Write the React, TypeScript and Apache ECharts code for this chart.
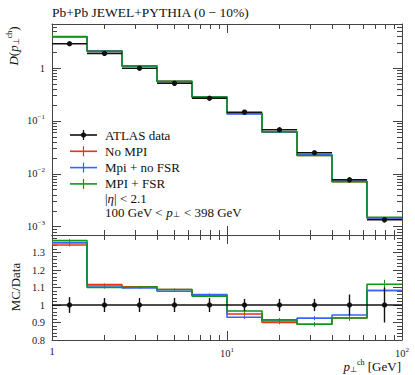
import React, { useEffect, useRef } from "react";
import * as echarts from "echarts";

const binEdges = [1, 1.585, 2.512, 3.981, 6.31, 10, 15.85, 25.12, 39.81, 63.1, 100];
const binCenters = [1.259, 1.995, 3.162, 5.012, 7.943, 12.59, 19.95, 31.62, 50.12, 79.43];
const atlasData = [2.87, 1.89, 0.99, 0.514, 0.268, 0.146, 0.068, 0.025, 0.0077, 0.00135];
const atlasRelErr = [0.045, 0.04, 0.04, 0.04, 0.04, 0.035, 0.035, 0.035, 0.06, 0.1];
const noMpi = [3.85, 2.11, 1.093, 0.56, 0.283, 0.1386, 0.0612, 0.02225, 0.00713, 0.00146];
const mpiNoFsr = [3.89, 2.1, 1.086, 0.555, 0.284, 0.1358, 0.0618, 0.0231, 0.00726, 0.00146];
const mpiFsr = [3.93, 2.08, 1.093, 0.56, 0.282, 0.141, 0.0622, 0.02225, 0.00713, 0.00151];
const ratioNoMpi = [1.343, 1.117, 1.104, 1.089, 1.057, 0.949, 0.9, 0.89, 0.926, 1.083];
const ratioMpiNoFsr = [1.355, 1.109, 1.097, 1.079, 1.06, 0.93, 0.909, 0.925, 0.943, 1.083];
const ratioMpiFsr = [1.368, 1.1, 1.104, 1.089, 1.051, 0.966, 0.915, 0.89, 0.926, 1.119];
const mcRelErr = [0.008, 0.006, 0.005, 0.005, 0.006, 0.01, 0.01, 0.012, 0.015, 0.025];

const xMajor = [1, 10, 100];
const xMinor = [2, 3, 4, 5, 6, 7, 8, 9, 20, 30, 40, 50, 60, 70, 80, 90];
const yTopMajor = [0.001, 0.01, 0.1, 1];
const yTopMinor: number[] = [];
[0.0001, 0.001, 0.01, 0.1, 1].forEach((d) => {
  for (let k = 2; k <= 9; k++) yTopMinor.push(+(d * k).toPrecision(3));
});
const yRatioLabels = [0.8, 0.9, 1, 1.1, 1.2, 1.3];

const RED = "#EE3311";
const BLUE = "#3366FF";
const GREEN = "#109618";
const FRAME = "#444";
const FONT = "Liberation Serif";

const supMap: Record<string, string> = { "-1": "−1", "-2": "−2", "-3": "−3", "1": "1", "2": "2" };

function stepData(vals: number[]) {
  return binEdges.map((e, i) => [e, vals[Math.min(i, vals.length - 1)]]);
}

function pointRender(params: any, api: any) {
  const y = api.value(3);
  const e = api.value(4);
  const lo = api.coord([api.value(0), y]);
  const hi = api.coord([api.value(1), y]);
  const c = api.coord([api.value(2), y]);
  const t = api.coord([api.value(2), y + e]);
  const b = api.coord([api.value(2), y - e]);
  return {
    type: "group",
    children: [
      { type: "line", shape: { x1: lo[0], y1: lo[1], x2: hi[0], y2: hi[1] }, style: { stroke: "#111", lineWidth: 1.6 } },
      { type: "line", shape: { x1: c[0], y1: t[1], x2: c[0], y2: b[1] }, style: { stroke: "#111", lineWidth: 1.4 } },
      { type: "circle", shape: { cx: c[0], cy: c[1], r: 2.7 }, style: { fill: "#111" } },
    ],
  };
}

function tickRender(color: string) {
  return (params: any, api: any) => {
    const y = api.value(1);
    const e = api.value(2);
    const t = api.coord([api.value(0), y + e]);
    const b = api.coord([api.value(0), y - e]);
    return { type: "line", shape: { x1: t[0], y1: t[1], x2: b[0], y2: b[1] }, style: { stroke: color, lineWidth: 1 } };
  };
}

function xAxes(gridIndex: number, withLabels: boolean) {
  const base = {
    type: "log",
    logBase: 10,
    min: 1,
    max: 100,
    gridIndex,
    splitLine: { show: false },
  };
  const res: any[] = [];
  ["bottom", "top"].forEach((pos) => {
    res.push({
      ...base,
      position: pos,
      axisLine: { show: true, lineStyle: { color: FRAME, width: 1 } },
      axisTick: { show: true, inside: true, length: 9, customValues: xMajor, lineStyle: { color: FRAME } },
      axisLabel:
        withLabels && pos === "bottom"
          ? {
              show: true,
              customValues: xMajor,
              fontFamily: FONT,
              fontSize: 10.5,
              color: "#222",
              margin: 6,
              formatter: (v: number) => (v === 1 ? "{b|1}" : `{b|10}{s|${v === 10 ? "1" : "2"}}`),
              rich: { b: { fontFamily: FONT, fontSize: 10.5, color: "#222" }, s: { fontFamily: FONT, fontSize: 7, color: "#222", padding: [0, 0, 7, 0] } },
            }
          : { show: false },
    });
    res.push({
      ...base,
      position: pos,
      axisLine: { show: false },
      axisTick: { show: true, inside: true, length: 5, customValues: xMinor, lineStyle: { color: FRAME } },
      axisLabel: { show: false },
    });
  });
  return res;
}

function topYAxes() {
  const base = { type: "log", logBase: 10, min: 6.97e-4, max: 6.79, gridIndex: 0, splitLine: { show: false } };
  const res: any[] = [];
  ["left", "right"].forEach((pos) => {
    res.push({
      ...base,
      position: pos,
      axisLine: { show: true, lineStyle: { color: FRAME } },
      axisTick: { show: true, inside: true, length: 9, customValues: yTopMajor, lineStyle: { color: FRAME } },
      axisLabel:
        pos === "left"
          ? {
              show: true,
              customValues: yTopMajor,
              margin: 7,
              formatter: (v: number) => {
                if (v === 1) return "{b|1}";
                const ex = String(Math.round(Math.log10(v)));
                return `{b|10}{s|${supMap[ex]}}`;
              },
              rich: { b: { fontFamily: FONT, fontSize: 10.5, color: "#222" }, s: { fontFamily: FONT, fontSize: 7, color: "#222", padding: [0, 0, 7, 0] } },
            }
          : { show: false },
    });
    res.push({
      ...base,
      position: pos,
      axisLine: { show: false },
      axisTick: { show: true, inside: true, length: 5, customValues: yTopMinor, lineStyle: { color: FRAME } },
      axisLabel: { show: false },
    });
  });
  return res;
}

function ratioYAxes() {
  const res: any[] = [];
  ["left", "right"].forEach((pos) => {
    res.push({
      type: "value",
      gridIndex: 1,
      position: pos,
      min: 0.8,
      max: 1.4,
      interval: 0.1,
      splitLine: { show: false },
      axisLine: { show: true, lineStyle: { color: FRAME } },
      axisTick: { show: true, inside: true, length: 9, lineStyle: { color: FRAME } },
      minorTick: { show: true, splitNumber: 5, length: 5, lineStyle: { color: FRAME } },
      axisLabel:
        pos === "left"
          ? {
              show: true,
              customValues: yRatioLabels,
              fontFamily: FONT,
              fontSize: 10.5,
              color: "#222",
              margin: 7,
              formatter: (v: number) => String(+v.toFixed(1)),
            }
          : { show: false },
    });
  });
  return res;
}

export default function App() {
  const ref = useRef<HTMLDivElement>(null);
  useEffect(() => {
    if (!ref.current) return;
    const chart = echarts.init(ref.current, null, { renderer: "svg" });
    const mcSeries = (name: string, vals: number[], color: string, xi: number, yi: number, z: number) => ({
      name,
      type: "line",
      xAxisIndex: xi,
      yAxisIndex: yi,
      step: "end",
      data: stepData(vals),
      showSymbol: false,
      symbol: "none",
      lineStyle: { color, width: 1.6 },
      z,
      clip: true,
    });
    const topPoints = binCenters.map((c, i) => [binEdges[i], binEdges[i + 1], c, atlasData[i], atlasData[i] * atlasRelErr[i]]);
    const ratioPoints = binCenters.map((c, i) => [binEdges[i], binEdges[i + 1], c, 1, atlasRelErr[i]]);
    const ticks = (vals: number[]) => binCenters.map((c, i) => [c, vals[i], mcRelErr[i]]);

    const legendRows = [
      { label: "ATLAS data", color: "#111", dot: true },
      { label: "No MPI", color: RED, dot: false },
      { label: "Mpi + no FSR", color: BLUE, dot: false },
      { label: "MPI + FSR", color: GREEN, dot: false },
    ];
    const legendY0 = 135;
    const legendDy = 16.3;
    const graphics: any[] = [];
    legendRows.forEach((r, i) => {
      const y = legendY0 + i * legendDy;
      graphics.push({ type: "line", shape: { x1: 70, y1: y, x2: 97, y2: y }, style: { stroke: r.color, lineWidth: 1.6 } });
      graphics.push({ type: "line", shape: { x1: 83.5, y1: y - 5, x2: 83.5, y2: y + 5 }, style: { stroke: r.color, lineWidth: 1.2 } });
      if (r.dot) graphics.push({ type: "circle", shape: { cx: 83.5, cy: y, r: 2.7 }, style: { fill: r.color } });
      graphics.push({
        type: "text",
        x: 105,
        y,
        style: { text: r.label, fontFamily: FONT, fontSize: 13, fill: "#111", verticalAlign: "middle", align: "left" },
      });
    });
    graphics.push({
      type: "text",
      x: 105,
      y: 198,
      style: {
        text: "{n||}{i|η}{n|| < 2.1}",
        verticalAlign: "middle",
        rich: { n: { fontFamily: FONT, fontSize: 13, fill: "#111" }, i: { fontFamily: FONT, fontSize: 13, fontStyle: "italic", fill: "#111" } },
      },
    });
    graphics.push({
      type: "text",
      x: 105,
      y: 212,
      style: {
        text: "{n|100 GeV < }{i|p}{s|⊥}{n| < 398 GeV}",
        verticalAlign: "middle",
        rich: {
          n: { fontFamily: FONT, fontSize: 13, fill: "#111" },
          i: { fontFamily: FONT, fontSize: 13, fontStyle: "italic", fill: "#111" },
          s: { fontFamily: FONT, fontSize: 8, fill: "#111", padding: [5, 1, 0, 0] },
        },
      },
    });
    graphics.push({
      type: "text",
      x: 52,
      y: 12,
      style: { text: "Pb+Pb JEWEL+PYTHIA (0 − 10%)", fontFamily: FONT, fontSize: 13.5, fill: "#111", verticalAlign: "middle" },
    });
    graphics.push({
      type: "text",
      x: 13,
      y: 46,
      rotation: Math.PI / 2,
      style: {
        text: "{i|D}{n|(}{i|p}{s|⊥}{u|ch}{n|)}",
        align: "center",
        verticalAlign: "middle",
        rich: {
          n: { fontFamily: FONT, fontSize: 13, fill: "#111" },
          i: { fontFamily: FONT, fontSize: 13, fontStyle: "italic", fill: "#111" },
          s: { fontFamily: FONT, fontSize: 8, fill: "#111", padding: [6, 0, 0, 0] },
          u: { fontFamily: FONT, fontSize: 8, fill: "#111", padding: [0, 0, 8, 0] },
        },
      },
    });
    graphics.push({
      type: "text",
      x: 15,
      y: 287,
      rotation: Math.PI / 2,
      style: { text: "MC/Data", fontFamily: FONT, fontSize: 13, fill: "#111", align: "center", verticalAlign: "middle" },
    });
    graphics.push({
      type: "text",
      x: 401,
      y: 366,
      style: {
        text: "{i|p}{s|⊥}{u|ch}{n| [GeV]}",
        align: "right",
        verticalAlign: "middle",
        rich: {
          n: { fontFamily: FONT, fontSize: 13, fill: "#111" },
          i: { fontFamily: FONT, fontSize: 13, fontStyle: "italic", fill: "#111" },
          s: { fontFamily: FONT, fontSize: 8, fill: "#111", padding: [6, 0, 0, 0] },
          u: { fontFamily: FONT, fontSize: 8, fill: "#111", padding: [0, 0, 8, 0] },
        },
      },
    });

    const option: any = {
      animation: false,
      backgroundColor: "#fff",
      grid: [
        { left: 52, right: 13, top: 24, height: 211, containLabel: false },
        { left: 52, right: 13, top: 235, height: 105, containLabel: false },
      ],
      xAxis: [...xAxes(0, false), ...xAxes(1, true)],
      yAxis: [...topYAxes(), ...ratioYAxes()],
      series: [
        mcSeries("No MPI", noMpi, RED, 0, 0, 2),
        mcSeries("Mpi + no FSR", mpiNoFsr, BLUE, 0, 0, 3),
        mcSeries("MPI + FSR", mpiFsr, GREEN, 0, 0, 4),
        {
          type: "custom",
          name: "ATLAS data",
          xAxisIndex: 0,
          yAxisIndex: 0,
          data: topPoints,
          encode: { x: [0, 1, 2], y: [3] },
          renderItem: pointRender,
          z: 6,
        },
        mcSeries("No MPI r", ratioNoMpi, RED, 4, 4, 2),
        mcSeries("Mpi + no FSR r", ratioMpiNoFsr, BLUE, 4, 4, 3),
        mcSeries("MPI + FSR r", ratioMpiFsr, GREEN, 4, 4, 4),
        { type: "custom", xAxisIndex: 4, yAxisIndex: 4, data: ticks(ratioNoMpi), encode: { x: [0], y: [1] }, renderItem: tickRender(RED), z: 2 },
        { type: "custom", xAxisIndex: 4, yAxisIndex: 4, data: ticks(ratioMpiNoFsr), encode: { x: [0], y: [1] }, renderItem: tickRender(BLUE), z: 3 },
        { type: "custom", xAxisIndex: 4, yAxisIndex: 4, data: ticks(ratioMpiFsr), encode: { x: [0], y: [1] }, renderItem: tickRender(GREEN), z: 4 },
        {
          type: "custom",
          name: "ATLAS ratio",
          xAxisIndex: 4,
          yAxisIndex: 4,
          data: ratioPoints,
          encode: { x: [0, 1, 2], y: [3] },
          renderItem: pointRender,
          z: 6,
        },
      ],
      graphic: graphics,
    };
    chart.setOption(option);
    return () => chart.dispose();
  }, []);
  return <div ref={ref} style={{ width: 415, height: 375, position: "absolute", left: 0, top: 0 }} />;
}
